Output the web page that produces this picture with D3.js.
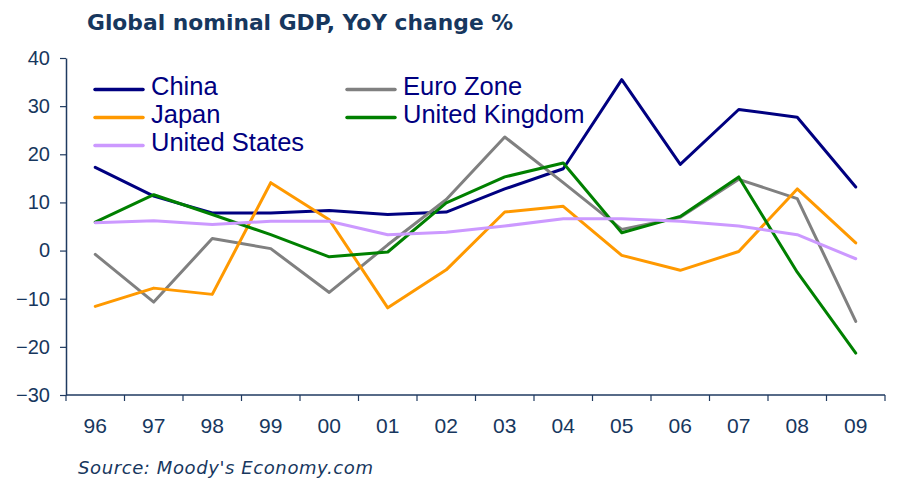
<!DOCTYPE html>
<html><head><meta charset="utf-8">
<script src="https://cdn.jsdelivr.net/npm/d3@7/dist/d3.min.js"></script>
<style>body{margin:0;background:#fff}svg{display:block}</style>
</head><body>
<svg id="c" width="898" height="483"></svg>
<script>
const years = ["96","97","98","99","00","01","02","03","04","05","06","07","08","09"];
const yTicks = [-30,-20,-10,0,10,20,30,40];
const seriesNames = ["China","Euro Zone","Japan","United Kingdom","United States"];
const china = [17.3,11.3,7.8,7.8,8.3,7.5,8.0,12.8,17.0,35.5,17.9,29.3,27.7,13.2];
const euroZone = [-0.8,-10.7,2.5,0.4,-8.7,1.2,10.6,23.6,14.1,4.4,6.9,14.8,10.8,-14.7];
const japan = [-11.6,-7.8,-9.1,14.1,6.4,-11.9,-4.0,8.0,9.2,-1.0,-4.1,-0.2,12.8,1.6];
const uk = [5.9,11.6,7.5,3.3,-1.3,-0.3,9.9,15.3,18.2,3.7,7.1,15.3,-4.5,-21.3];
const us = [5.8,6.2,5.4,6.1,6.1,3.3,3.8,5.1,6.6,6.6,6.1,5.1,3.3,-1.7];
const colors = ["#000080","#808080","#FF9900","#008000","#CC99FF"];
const values = [china, euroZone, japan, uk, us];

const svg = d3.select("#c");
const axisColor = "#1F3A60";
const textColor = "#17375E";

const x = d3.scaleBand().domain(years).range([66, 885]);
const y = d3.scaleLinear().domain([-30, 40]).range([395, 58]);

// title
svg.append("text").attr("x", 87).attr("y", 30)
  .attr("font-family", "DejaVu Sans, Verdana, sans-serif").attr("font-weight", "bold")
  .attr("font-size", 21.8).attr("fill", textColor)
  .text("Global nominal GDP, YoY change %");

// y axis
const yAxis = svg.append("g").attr("transform", "translate(66,0)")
  .call(d3.axisLeft(y).tickValues(yTicks).tickSize(6).tickSizeOuter(0).tickPadding(10));
yAxis.select(".domain").attr("stroke", axisColor).attr("stroke-width", 1.5);
yAxis.selectAll(".tick line").attr("stroke", axisColor).attr("stroke-width", 1.2);
yAxis.selectAll(".tick text").attr("font-family", "Liberation Sans, Arial, sans-serif")
  .attr("font-size", 20).attr("fill", textColor);

// x axis
const xg = svg.append("g").attr("transform", "translate(0,395)");
xg.append("line").attr("x1", 66).attr("x2", 885).attr("y1", 0).attr("y2", 0)
  .attr("stroke", axisColor).attr("stroke-width", 1.5);
const bounds = years.map(d => x(d)).concat([x(years[years.length-1]) + x.bandwidth()]);
xg.selectAll("line.t").data(bounds).join("line").attr("class","t")
  .attr("x1", d => d).attr("x2", d => d).attr("y1", 0).attr("y2", 6)
  .attr("stroke", axisColor).attr("stroke-width", 1.2);
xg.selectAll("text").data(years).join("text")
  .attr("x", d => x(d) + x.bandwidth()/2).attr("y", 38)
  .attr("text-anchor", "middle")
  .attr("font-family", "Liberation Sans, Arial, sans-serif").attr("font-size", 21)
  .attr("fill", textColor).text(d => d);

// lines
const line = d3.line().x((d, i) => x(years[i]) + x.bandwidth()/2).y(d => y(d));
values.forEach((v, k) => {
  svg.append("path").datum(v).attr("d", line)
    .attr("fill", "none").attr("stroke", colors[k]).attr("stroke-width", 3)
    .attr("stroke-linejoin", "round").attr("stroke-linecap", "round");
});

// legend
const legendPos = [[95,95],[347,95],[95,123],[347,123],[95,151]];
seriesNames.forEach((n, k) => {
  const [lx, ly] = legendPos[k];
  svg.append("line").attr("x1", lx).attr("x2", lx + 48).attr("y1", ly - 5.5).attr("y2", ly - 5.5)
    .attr("stroke", colors[k]).attr("stroke-width", 3.5).attr("stroke-linecap", "round");
  svg.append("text").attr("x", lx + 56).attr("y", ly)
    .attr("font-family", "Liberation Sans, Arial, sans-serif").attr("font-size", 25.5)
    .attr("fill", "#000080").text(n);
});

// source
svg.append("text").attr("x", 78).attr("y", 474)
  .attr("font-family", "DejaVu Sans, Verdana, sans-serif").attr("font-style", "italic")
  .attr("font-size", 18).attr("letter-spacing", 0.6).attr("fill", textColor)
  .text("Source: Moody's Economy.com");
</script>
</body></html>
